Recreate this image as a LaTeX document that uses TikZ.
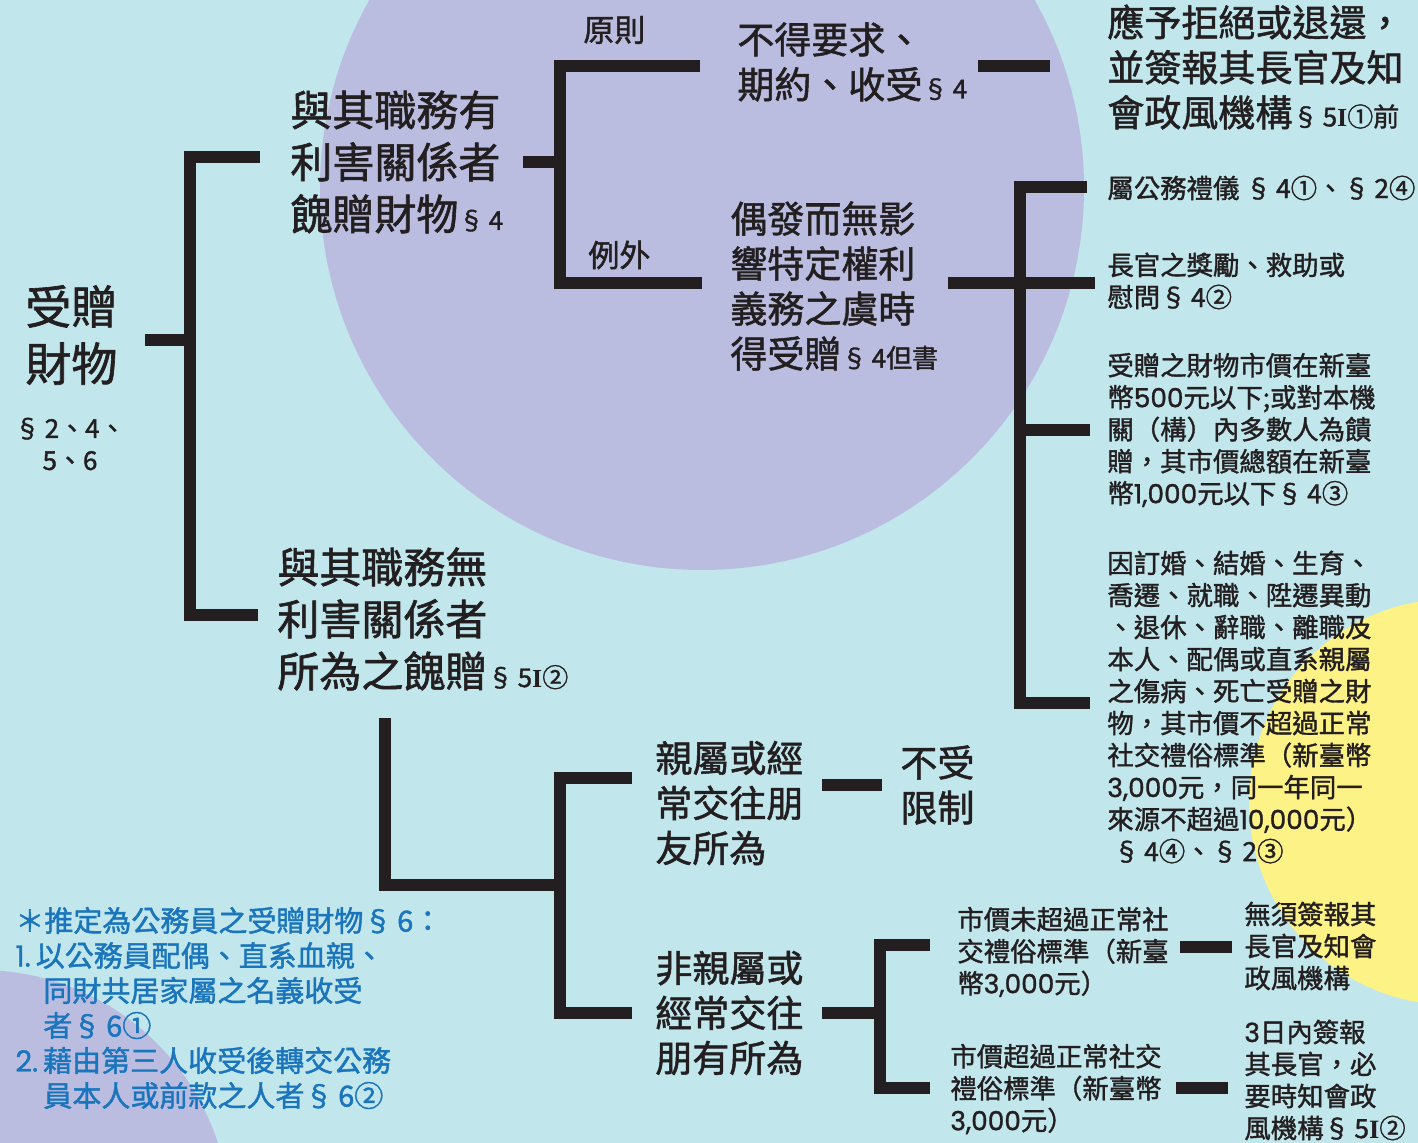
\documentclass[tikz,border=0pt]{standalone}
\usepackage{fontspec}
\setmainfont{Noto Sans CJK TC}[AutoFakeBold=1.4]
\newfontfamily\serifI{Liberation Serif}
\newfontfamily\dgf{Poppins}[AutoFakeBold=1.2]
\definecolor{bgc}{HTML}{C1E6EC}
\definecolor{purp}{HTML}{BBBDE0}
\definecolor{yel}{HTML}{FDF285}
\definecolor{ink}{HTML}{231F20}
\definecolor{blu}{HTML}{1B75BC}
\newcommand{\sm}[1]{{\fontsize{13}{13}\selectfont #1}}
\newcommand{\romI}{{\serifI I}}
\newcommand{\dg}[1]{{\dgf\bfseries #1}}
\begin{document}
\begin{tikzpicture}[x=0.5pt,y=-0.5pt,
  txt/.style={inner sep=0pt, anchor=west, align=left, text=ink},
  fRoot/.style={txt, font=\fontsize{23}{28.5}\selectfont\bfseries},
  fL/.style={txt, font=\fontsize{21}{26}\selectfont\bfseries},
  fM/.style={txt, font=\fontsize{18.5}{22.5}\selectfont\bfseries},
  fLab/.style={txt, font=\fontsize{15.5}{19}\selectfont\bfseries},
  fS/.style={txt, font=\fontsize{13.2}{16}\selectfont\bfseries},
  fB/.style={txt, text=blu, font=\fontsize{14.5}{17.5}\selectfont\bfseries},
  br/.style={draw=ink, line width=6pt, line join=miter, line cap=butt}]
\useasboundingbox (0,0) rectangle (1418,1143);
\begin{scope}
\clip (0,0) rectangle (1418,1143);
\fill[bgc] (0,0) rectangle (1418,1143);
\fill[purp] (702,188) circle[radius=382];
\fill[yel] (1452,802) circle[radius=203];
\fill[purp] (-20,1220) circle[radius=250];
\end{scope}

% ---------- nodes ----------
\node[fRoot] (root) at (25,335) {受贈\\財物};
\node[txt, anchor=center, align=center, font=\fontsize{13}{16}\selectfont\bfseries] (rootref) at (70,444) {§\,2、4、\\5、6};

\node[fL] (A) at (290,162) {與其職務有\\利害關係者\\餽贈財物\sm{§\,4}};
\node[fLab] (pA) at (583,30) {原則};
\node[fLab] (eA) at (588,255) {例外};
\node[fM] (ra) at (737,62) {不得要求、\\期約、收受\sm{§\,4}};
\node[fM] (rb) at (1107,67) {應予拒絕或退還，\\並簽報其長官及知\\會政風機構\sm{§\,5\romI①前}};
\node[fM] (ex) at (730,286) {偶發而無影\\響特定權利\\義務之虞時\\得受贈\sm{§\,4但書}};

\node[fS] (e1) at (1107,188) {屬公務禮儀 §\,4①、§\,2④};
\node[fS] (e2) at (1107,281) {長官之獎勵、救助或\\慰問§\,4②};
\node[fS] (e3) at (1107,430) {受贈之財物市價在新臺\\幣\dg{500}元以下;或對本機\\關（構）內多數人為饋\\贈，其市價總額在新臺\\幣\dg{1,000}元以下§\,4③};
\node[fS] (e4) at (1107,707) {因訂婚、結婚、生育、\\喬遷、就職、陞遷異動\\、退休、辭職、離職及\\本人、配偶或直系親屬\\之傷病、死亡受贈之財\\物，其市價不超過正常\\社交禮俗標準（新臺幣\\\dg{3,000}元，同一年同一\\來源不超過\dg{10,000}元）\\\hspace*{3pt}§\,4④、§\,2③};

\node[fL] (B) at (277,619) {與其職務無\\利害關係者\\所為之餽贈\sm{§\,5\romI②}};
\node[fM] (c1) at (655,803) {親屬或經\\常交往朋\\友所為};
\node[fM] (c1r) at (900,785) {不受\\限制};
\node[fM] (c2) at (655,1013) {非親屬或\\經常交往\\朋有所為};
\node[fS] (c2a) at (957,952) {市價未超過正常社\\交禮俗標準（新臺\\幣\dg{3,000}元）};
\node[fS] (c2ar) at (1244,946) {無須簽報其\\長官及知會\\政風機構};
\node[fS] (c2b) at (950,1089) {市價超過正常社交\\禮俗標準（新臺幣\\\dg{3,000}元）};
\node[fS] (c2br) at (1244,1080) {\dg{3}日內簽報\\其長官，必\\要時知會政\\風機構§\,5\romI②};

\node[fB] (note) at (15,1008) {＊推定為公務員之受贈財物§\,6：\\\dg{1.}\kern2.5pt以公務員配偶、直系血親、\\\hspace*{14pt}同財共居家屬之名義收受\\\hspace*{14pt}者§\,6①\\\dg{2.}\kern2.5pt藉由第三人收受後轉交公務\\\hspace*{14pt}員本人或前款之人者§\,6②};

% ---------- connectors ----------
\coordinate (r0) at (145,340); \coordinate (j0) at (190,340);
\coordinate (j0t) at (190,157); \coordinate (j0b) at (190,615);
\coordinate (toA) at (260,157); \coordinate (toB) at (258,615);
\draw[br] (r0) -- (j0);
\draw[br] (toA) -- (j0t) -- (j0b) -- (toB);

\coordinate (a0) at (523,162); \coordinate (ja) at (560,162);
\coordinate (jat) at (560,66); \coordinate (jab) at (560,283);
\coordinate (tora) at (700,66); \coordinate (toex) at (702,283);
\draw[br] (a0) -- (ja);
\draw[br] (tora) -- (jat) -- (jab) -- (toex);
\draw[br] (978,66) coordinate (ra0) -- (1050,66) coordinate (torb);

\coordinate (x0) at (948,283); \coordinate (jx) at (1020,283);
\coordinate (jxt) at (1020,187); \coordinate (jxb) at (1020,703);
\draw[br] (x0) -- (1095,283) coordinate (toe2);
\draw[br] (1087,187) coordinate (toe1) -- (jxt) -- (jxb) -- (1090,703) coordinate (toe4);
\draw[br] (1020,430) coordinate (jx3) -- (1090,430) coordinate (toe3);

\coordinate (b0) at (385,718); \coordinate (jb1) at (385,885);
\coordinate (jb2) at (560,885);
\coordinate (jbt) at (560,778); \coordinate (jbb) at (560,1013);
\draw[br] (b0) -- (jb1) -- (jb2);
\draw[br] (632,778) coordinate (toc1) -- (jbt) -- (jbb) -- (632,1013) coordinate (toc2);
\draw[br] (822,785) coordinate (c10) -- (882,785) coordinate (toc1r);

\coordinate (c20) at (822,1013); \coordinate (jc) at (880,1013);
\draw[br] (c20) -- (jc);
\draw[br] (930,945) coordinate (toc2a) -- (880,945) -- (880,1088) -- (930,1088) coordinate (toc2b);
\draw[br] (1180,947) coordinate (ca0) -- (1232,947) coordinate (toc2ar);
\draw[br] (1176,1088) coordinate (cb0) -- (1228,1088) coordinate (toc2br);
\end{tikzpicture}
\end{document}
